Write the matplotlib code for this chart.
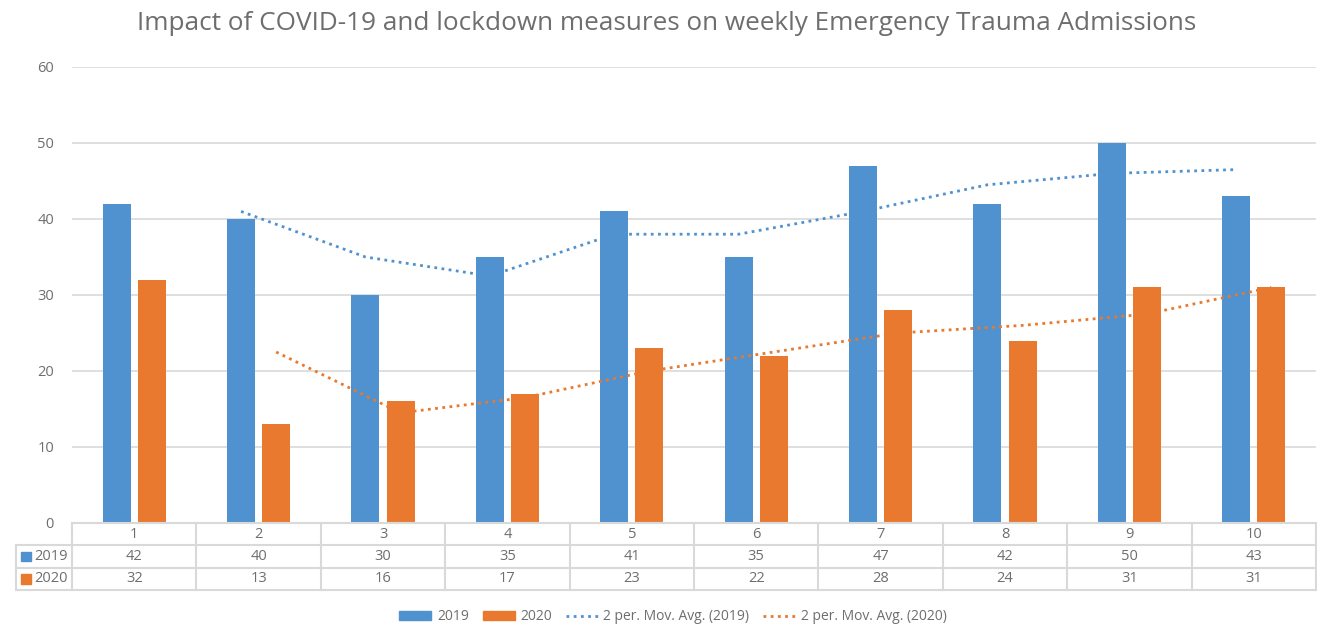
import numpy as np
import matplotlib.pyplot as plt
from matplotlib.lines import Line2D
from matplotlib.patches import Patch

weeks = ['1', '2', '3', '4', '5', '6', '7', '8', '9', '10']
adm_2019 = [42, 40, 30, 35, 41, 35, 47, 42, 50, 43]
adm_2020 = [32, 13, 16, 17, 23, 22, 28, 24, 31, 31]
yticks = [0, 10, 20, 30, 40, 50, 60]

blue = '#5092CF'
orange = '#E8792F'
grid_c = '#D9D9D9'
txt_c = '#6E6E6E'

plt.rcParams['font.family'] = ['Open Sans', 'DejaVu Sans']


def mov_avg(v, n=2):
    v = np.asarray(v, dtype=float)
    return np.convolve(v, np.ones(n) / n, mode='valid')


def main():
    W, H = 1317, 626
    fig = plt.figure(figsize=(W / 100, H / 100), dpi=100)
    px = lambda x0, y0, x1, y1: [x0 / W, 1 - y1 / H, (x1 - x0) / W, (y1 - y0) / H]

    ax = fig.add_axes(px(72, 67, 1316, 523))
    x = np.arange(len(weeks))
    bw = 0.225
    off = 0.141
    ax.bar(x - off, adm_2019, bw, color=blue, zorder=3)
    ax.bar(x + off, adm_2020, bw, color=orange, zorder=3)

    ma19 = mov_avg(adm_2019)
    ma20 = mov_avg(adm_2020)
    dot = (0, (1, 1.6))
    ax.plot(x[1:] - off, ma19, color=blue, lw=2, linestyle=dot, zorder=4)
    ax.plot(x[1:] + off, ma20, color=orange, lw=2, linestyle=dot, zorder=4)

    ax.set_xlim(-0.5, len(weeks) - 0.5)
    ax.set_ylim(0, 60)
    ax.set_yticks(yticks)
    ax.yaxis.grid(True, color=grid_c, lw=1.2, zorder=0)
    ax.tick_params(axis='y', length=0, pad=13, labelsize=10.5, labelcolor=txt_c)
    ax.set_xticks([])
    for s in ax.spines.values():
        s.set_visible(False)

    # data table under the plot
    unit = (1316 - 72) / len(weeks)
    tb = fig.add_axes(px(16, 523, 1316, 590))
    tb.set_xlim(-0.5 - 56 / unit, len(weeks) - 0.5)
    tb.set_ylim(3, 0)
    tb.axis('off')
    lk = dict(color=grid_c, lw=1.5, clip_on=False)
    x_left = -0.5 - 56 / unit
    tb.plot([-0.5, len(weeks) - 0.5], [0, 0], **lk)
    for r in (1, 2, 3):
        tb.plot([x_left, len(weeks) - 0.5], [r, r], **lk)
    tb.plot([x_left, x_left], [1, 3], **lk)
    for b in np.arange(len(weeks) + 1) - 0.5:
        tb.plot([b, b], [0, 3], **lk)
    fs = 10.5
    for i, w in enumerate(weeks):
        tb.text(i, 0.5, w, ha='center', va='center', fontsize=fs, color=txt_c)
        tb.text(i, 1.5, str(adm_2019[i]), ha='center', va='center', fontsize=fs, color=txt_c)
        tb.text(i, 2.5, str(adm_2020[i]), ha='center', va='center', fontsize=fs, color=txt_c)
    for r, (lab, c) in enumerate([('2019', blue), ('2020', orange)]):
        tb.add_patch(plt.Rectangle((x_left + 5 / unit, r + 1.3), 10 / unit, 0.42,
                                   color=c, clip_on=False))
        tb.text(x_left + 18 / unit, r + 1.5, lab, ha='left', va='center', fontsize=fs, color=txt_c)

    fig.text(0.506, 1 - 23 / H, 'Impact of COVID-19 and lockdown measures on weekly Emergency Trauma Admissions',
             ha='center', va='center', fontsize=18.8, color='#6E6E6E')

    handles = [Patch(color=blue), Patch(color=orange),
               Line2D([], [], color=blue, lw=2, linestyle=dot),
               Line2D([], [], color=orange, lw=2, linestyle=dot)]
    labels = ['2019', '2020', '2 per. Mov. Avg. (2019)', '2 per. Mov. Avg. (2020)']
    leg = fig.legend(handles, labels, loc='center', bbox_to_anchor=(0.511, 1 - 617 / H), ncol=4,
                     frameon=False, fontsize=10, handlelength=2.3, handleheight=0.6,
                     columnspacing=1.0, handletextpad=0.4)
    for t in leg.get_texts():
        t.set_color(txt_c)

    fig.savefig('out.png', dpi=100)


if __name__ == '__main__':
    main()
